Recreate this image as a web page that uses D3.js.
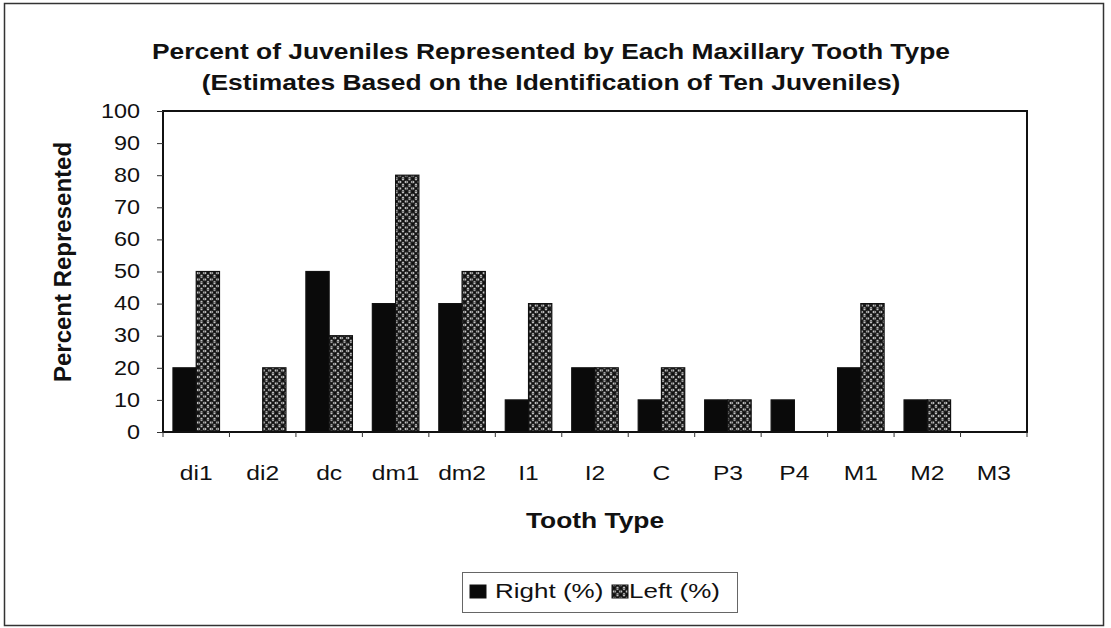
<!DOCTYPE html>
<html><head><meta charset="utf-8">
<script src="https://cdn.jsdelivr.net/npm/d3@7"></script>
<style>body{margin:0;background:#fff}svg{display:block}text{font-family:"Liberation Sans",Arial,sans-serif;fill:#111}</style>
</head><body>
<svg id="c" width="1111" height="628"></svg>
<script>
const categories = ["di1","di2","dc","dm1","dm2","I1","I2","C","P3","P4","M1","M2","M3"];
const rightValues = [20,0,50,40,40,10,20,10,10,10,20,10,0];
const leftValues  = [50,20,30,80,50,40,20,20,10,0,40,10,0];
const yTicks = [0,10,20,30,40,50,60,70,80,90,100];
const seriesNames = ["Right (%)","Left (%)"];

const svg = d3.select("#c");
const defs = svg.append("defs");
const pat = defs.append("pattern").attr("id","hatch").attr("patternUnits","userSpaceOnUse").attr("width",6.5).attr("height",6.5);
pat.append("rect").attr("width",6.5).attr("height",6.5).attr("fill","#fff");
pat.append("path").attr("d","M0,0L6.5,6.5M6.5,0L0,6.5").attr("stroke","#111").attr("stroke-width",2);
pat.append("path").attr("d","M3.25,0L3.25,6.5M0,3.25L6.5,3.25").attr("stroke","#111").attr("stroke-width",0.7);

// horizontal stretch of text around its anchor
function stretch(sel, sx){
  sel.each(function(){
    const ax = +(this.getAttribute("x")||0);
    d3.select(this).attr("transform",`translate(${ax},0) scale(${sx},1) translate(${-ax},0)`);
  });
}

// outer border
svg.append("rect").attr("x",4.5).attr("y",3.5).attr("width",1099).attr("height",622).attr("fill","none").attr("stroke","#333").attr("stroke-width",1.5);

const m = {l:163, r:1027, t:111, b:432};
const x = d3.scaleBand().domain(categories).range([m.l,m.r]).padding(0);
const y = d3.scaleLinear().domain([0,100]).range([m.b,m.t]);
const sub = d3.scaleBand().domain([0,1]).range([0, x.bandwidth()*0.7]);

const data = categories.map((c,i)=>({c, v:[rightValues[i], leftValues[i]]}));
const g = svg.append("g");
data.forEach(d=>{
  const x0 = x(d.c) + x.bandwidth()*0.15;
  d.v.forEach((v,k)=>{
    if (v<=0) return;
    g.append("rect").attr("x",x0+sub(k)).attr("y",y(v)).attr("width",sub.bandwidth()).attr("height",y(0)-y(v))
     .attr("fill", k===0 ? "#0a0a0a" : "url(#hatch)").attr("stroke","#111").attr("stroke-width",1.2);
  });
});

// plot frame
svg.append("rect").attr("x",m.l).attr("y",m.t).attr("width",m.r-m.l).attr("height",m.b-m.t).attr("fill","none").attr("stroke","#111").attr("stroke-width",2);

// y axis
const ya = svg.append("g").attr("transform",`translate(${m.l},0)`).call(d3.axisLeft(y).tickValues(yTicks).tickSize(6).tickPadding(4));
ya.select(".domain").remove();
ya.selectAll("line").attr("stroke","#333");
ya.selectAll("text").style("font-size","19.5px").style("font-family","Liberation Sans, Arial").attr("fill","#111").attr("x",-23);
stretch(ya.selectAll("text"), 1.2);

// x axis
const xa = svg.append("g").attr("transform",`translate(0,${m.b})`).call(d3.axisBottom(x).tickSize(0).tickPadding(0));
xa.select(".domain").remove();
xa.selectAll("text").style("font-size","20.5px").style("font-family","Liberation Sans, Arial").attr("fill","#111").attr("dy",null).attr("y",48);
stretch(xa.selectAll("text"), 1.2);
const bounds = d3.range(categories.length+1).map(i=>m.l + i*x.step());
svg.append("g").selectAll("line").data(bounds).join("line").attr("x1",d=>d).attr("x2",d=>d).attr("y1",m.b).attr("y2",m.b+5).attr("stroke","#333");

// titles
const t1 = svg.append("text").attr("x",551).attr("y",59).attr("text-anchor","middle").style("font-size","22px").style("font-weight","bold").text("Percent of Juveniles Represented by Each Maxillary Tooth Type");
const t2 = svg.append("text").attr("x",551).attr("y",90).attr("text-anchor","middle").style("font-size","22px").style("font-weight","bold").text("(Estimates Based on the Identification of Ten Juveniles)");
const t3 = svg.append("text").attr("x",595).attr("y",528).attr("text-anchor","middle").style("font-size","22px").style("font-weight","bold").text("Tooth Type");
stretch(t1,1.2); stretch(t2,1.2); stretch(t3,1.2);
svg.append("text").attr("transform","translate(71,262) rotate(-90)").attr("text-anchor","middle").style("font-size","24px").style("font-weight","bold").text("Percent Represented");

// legend
const lg = svg.append("g");
lg.append("rect").attr("x",462.5).attr("y",572.5).attr("width",275).attr("height",40).attr("fill","#fff").attr("stroke","#666").attr("stroke-width",1);
const lx = [470, 612];
const tx = [495, 629];
seriesNames.forEach((n,k)=>{
  lg.append("rect").attr("x",lx[k]).attr("y",585).attr("width",16).attr("height",13).attr("fill",k===0?"#0a0a0a":"url(#hatch)").attr("stroke","#111");
  const t = lg.append("text").attr("x",tx[k]).attr("y",598).style("font-size","20px").text(n);
  stretch(t, 1.3);
});
</script>
</body></html>
